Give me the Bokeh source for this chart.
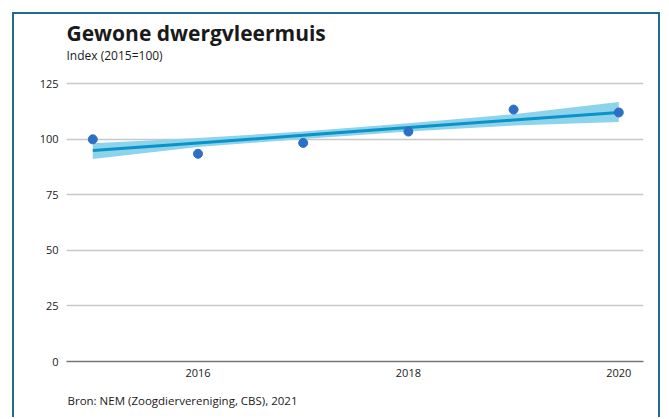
from bokeh.plotting import figure
from bokeh.models import Range1d, FixedTicker, Title, Label, ColumnDataSource
from bokeh.embed import file_html
from bokeh.resources import INLINE

# Data
years = [2015, 2016, 2017, 2018, 2019, 2020]
index_values = [100.0, 93.5, 98.4, 103.5, 113.4, 112.1]
trend_values = [95.0, 98.4, 101.8, 105.3, 108.7, 112.1]
band_lower = [91.2, 96.6, 100.2, 103.5, 106.2, 107.8]
band_upper = [98.3, 100.6, 103.5, 107.2, 111.3, 116.8]
x_ticks = [2016, 2018, 2020]
y_ticks = [0, 25, 50, 75, 100, 125]

title_text = "Gewone dwergvleermuis"
subtitle_text = "Index (2015=100)"
source_text = "Bron: NEM (Zoogdiervereniging, CBS), 2021"

FONT = "Open Sans"
TEXT_COLOR = "#1a1a1a"

src = ColumnDataSource(dict(x=years, y=index_values, t=trend_values,
                            lo=band_lower, hi=band_upper))

# frame extends upward (invisible) so that title texts can sit inside it
p = figure(width=648, height=405, output_backend="svg", toolbar_location=None,
           x_range=Range1d(2014.75, 2020.235), y_range=Range1d(0, 155.3),
           min_border_left=52, min_border_right=19, min_border_top=2,
           min_border_bottom=58)
p.title_location = None
p.styles = {"border-left": "2px solid #1f6d8a", "border-top": "2px solid #1f6d8a",
            "border-right": "2px solid #1f6d8a"}
p.margin = (12, 0, 0, 12)
p.outline_line_color = None
p.background_fill_color = "white"
p.border_fill_color = "white"

p.varea(x="x", y1="lo", y2="hi", source=src, fill_color="#8dd3ec", fill_alpha=1.0)
p.line(x="x", y="t", source=src, line_color="#0a93c8", line_width=3)
p.scatter(x="x", y="y", source=src, size=9, fill_color="#2d6fc2", line_color="#2d6fc2")

# axes
p.xaxis.ticker = FixedTicker(ticks=x_ticks)
p.yaxis.ticker = FixedTicker(ticks=y_ticks)
for ax in (p.xaxis[0], p.yaxis[0]):
    ax.major_tick_line_color = None
    ax.minor_tick_line_color = None
    ax.major_tick_out = 0
    ax.major_tick_in = 0
    ax.major_label_text_font = FONT
    ax.major_label_text_font_size = "11px"
    ax.major_label_text_color = TEXT_COLOR
p.yaxis.axis_line_color = None
p.yaxis.major_label_standoff = 8
p.xaxis.axis_line_color = "#777777"
p.xaxis.axis_line_width = 1.5
p.xaxis.major_label_standoff = 7

p.xgrid.grid_line_color = None
p.ygrid.grid_line_color = "#c8c8c8"
p.ygrid.grid_line_width = 1.5

p.add_layout(Label(x=0, y=328.5, x_units="screen", y_units="screen", text=title_text,
                   text_font=FONT, text_font_size="21px", text_font_style="bold",
                   text_color=TEXT_COLOR, text_baseline="alphabetic"))
p.add_layout(Label(x=0, y=306.5, x_units="screen", y_units="screen", text=subtitle_text,
                   text_font=FONT, text_font_size="12px",
                   text_color=TEXT_COLOR, text_baseline="alphabetic"))
p.add_layout(Title(text=source_text, text_font=FONT, text_font_size="11.5px",
                   text_font_style="normal", text_color=TEXT_COLOR,
                   align="left", vertical_align="bottom", offset=1, standoff=22),
             "below")

open("out.html", "w").write(file_html(p, INLINE))
